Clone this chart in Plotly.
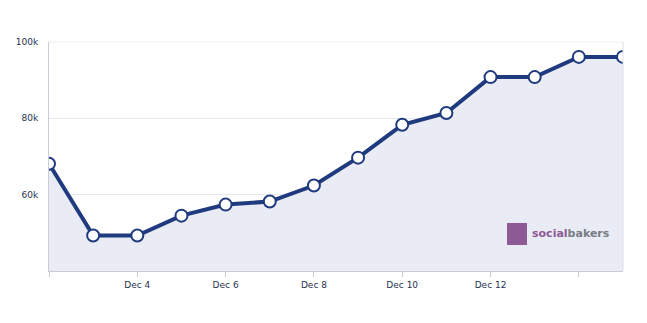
import plotly.graph_objects as go

dates = ["2012-12-02", "2012-12-03", "2012-12-04", "2012-12-05", "2012-12-06",
         "2012-12-07", "2012-12-08", "2012-12-09", "2012-12-10", "2012-12-11",
         "2012-12-12", "2012-12-13", "2012-12-14", "2012-12-15"]
fans = [68100, 49300, 49300, 54500, 57400, 58200, 62400, 69700, 78300, 81400,
        90800, 90800, 96100, 96100]

x_tickvals = ["2012-12-02", "2012-12-04", "2012-12-06", "2012-12-08",
              "2012-12-10", "2012-12-12", "2012-12-14"]
x_ticktext = ["", "Dec 4", "Dec 6", "Dec 8", "Dec 10", "Dec 12", ""]
y_tickvals = [60000, 80000, 100000]
y_ticktext = ["60k", "80k", "100k"]

navy = "#1f3a7e"

fig = go.Figure()
fig.add_trace(go.Scatter(
    x=dates, y=fans, mode="lines+markers",
    line=dict(color=navy, width=4),
    marker=dict(size=12, color="white", line=dict(color=navy, width=2)),
    fill="tozeroy", fillcolor="#e9ecf4",
    hoverinfo="skip",
))

fig.update_layout(
    width=647, height=323,
    margin=dict(l=49, r=24, t=42, b=52),
    paper_bgcolor="white", plot_bgcolor="white",
    showlegend=False,
    font=dict(family="DejaVu Sans", size=9, color="#263250"),
    xaxis=dict(
        type="date", range=["2012-12-02", "2012-12-15"],
        tickvals=x_tickvals, ticktext=x_ticktext,
        showgrid=False, zeroline=False,
        showline=True, linecolor="#c8ccd4", linewidth=1,
        ticks="outside", ticklen=5, tickcolor="#c8ccd4",
        mirror=False,
    ),
    yaxis=dict(
        range=[40000, 100000],
        tickvals=y_tickvals, ticktext=y_ticktext,
        showgrid=True, gridcolor="#e6e8ec", gridwidth=1,
        zeroline=False,
        showline=True, linecolor="#c8ccd4", linewidth=1,
        ticks="", ticklabelstandoff=8,
    ),
    shapes=[
        dict(type="line", xref="paper", yref="paper", x0=1, x1=1, y0=0, y1=1,
             line=dict(color="#dde0e6", width=1)),
        dict(type="line", xref="paper", yref="paper", x0=0, x1=1, y0=1, y1=1,
             line=dict(color="#eceef1", width=1)),
        dict(type="rect", xref="paper", yref="paper",
             x0=(507 - 49) / 574, x1=(527 - 49) / 574,
             y0=(271 - 245) / 229, y1=(271 - 223) / 229,
             fillcolor="#8e5a95", line=dict(width=0), layer="above"),
    ],
    annotations=[
        dict(xref="paper", yref="paper", x=(530 - 49) / 574, y=(271 - 233) / 229,
             xanchor="left", yanchor="middle", showarrow=False,
             text="<b><span style='color:#8e5a95'>social</span><span style='color:#777b84'>bakers</span></b>",
             font=dict(family="DejaVu Sans", size=11)),
    ],
)

fig.write_html("out.html")
